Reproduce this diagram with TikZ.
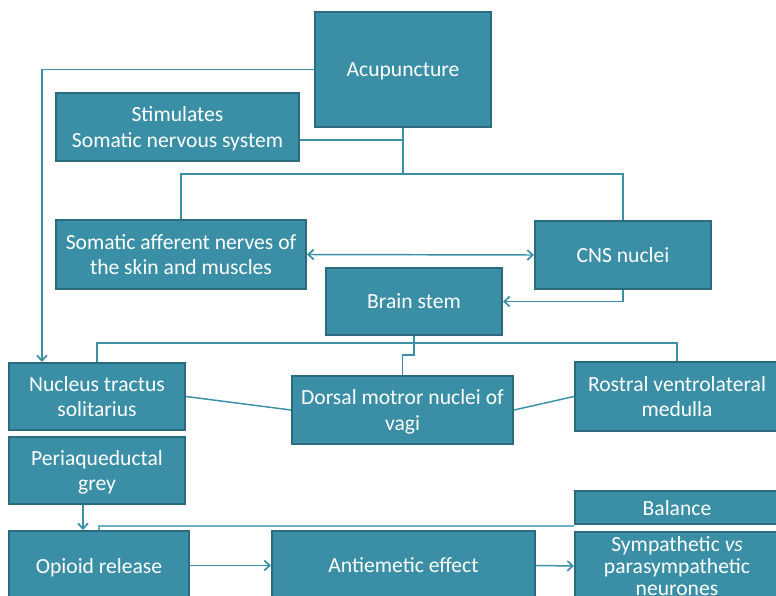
\documentclass[tikz,border=0pt]{standalone}
\usepackage{fontspec}
\setmainfont{Carlito}
\usetikzlibrary{arrows.meta,calc}
\definecolor{boxfill}{HTML}{3A8FA6}
\definecolor{boxedge}{HTML}{2B6B7D}
\definecolor{linec}{HTML}{3A90A7}
\definecolor{linel}{HTML}{6BB0C2}
\tikzset{
  bx/.style={draw=boxedge, line width=1.6pt, fill=boxfill, text=white, align=center,
    inner sep=0pt, text depth=0pt, font=\fontsize{16.2}{19.3}\selectfont},
  ln/.style={draw=linec, line width=1.1pt},
  lnl/.style={draw=linel, line width=1.1pt},
  tip/.style={Straight Barb[length=4pt,width=7.5pt,line width=1.3pt]},
  arr/.style={-{Straight Barb[length=4pt,width=7.5pt,line width=1.3pt]}},
  darr/.style={{Straight Barb[length=4pt,width=7.5pt,line width=1.3pt]}-{Straight Barb[length=4pt,width=7.5pt,line width=1.3pt]}}
}
\begin{document}
\begin{tikzpicture}[x=0.75pt,y=-0.75pt]
\useasboundingbox (0,0) rectangle (776,596);
\clip (0,0) rectangle (776,596);
% boxes
\node[bx, minimum width=132pt, minimum height=86.25pt] (acu) at (403,69.5) {Acupuncture};
\node[bx, minimum width=182.25pt, minimum height=51pt] (stim) at (177.5,127) {Stimulates\\Somatic nervous system};
\node[bx, minimum width=187.5pt, minimum height=51.75pt] (som) at (181,254.5) {Somatic afferent nerves of\\the skin and muscles};
\node[bx, minimum width=132pt, minimum height=51pt] (cns) at (623,255) {CNS nuclei};
\node[bx, minimum width=132pt, minimum height=50.25pt] (bs) at (414,301.5) {Brain stem};
\node[bx, minimum width=132pt, minimum height=50.25pt] (nts) at (97,396.5) {Nucleus tractus\\solitarius};
\node[bx, minimum width=165.75pt, minimum height=51pt] (dors) at (402.5,410) {Dorsal motror nuclei of\\vagi};
\node[bx, minimum width=153pt, minimum height=51.75pt] (rvlm) at (677,396.5) {Rostral ventrolateral\\medulla};
\node[bx, minimum width=132pt, minimum height=50.25pt] (pag) at (97,470.5) {Periaqueductal\\grey};
\node[bx, minimum width=153pt, minimum height=24.75pt] (bal) at (677,507.5) {Balance};
\node[bx, minimum width=135pt, minimum height=51.75pt] (opi) at (99,565.5) {Opioid release};
\node[bx, minimum width=197.25pt, minimum height=51.75pt] (anti) at (403.5,565.5) {Antiemetic effect};
\node[bx, minimum width=153pt, minimum height=51pt, font=\fontsize{16.2}{16.5}\selectfont] (sym) at (677,566) {Sympathetic \textit{vs}\\parasympathetic\\neurones};
% connectors
\coordinate (s1) at ([yshift=-9.75pt]stim.east);
\draw[ln] (s1) -- (s1 -| acu.south);
\coordinate (j1) at (403,174);
\draw[ln] (acu.south) -- (j1);
\draw[ln] (som.north) |- (j1) -| (cns.north);
\draw[ln,darr] (som.east) -- (cns.west);
\draw[ln,arr] (cns.south) |- (bs.east);
\coordinate (j2) at (414,343);
\draw[ln] (bs.south) -- (j2);
\draw[ln] (nts.north) |- (j2) -| (rvlm.north);
\coordinate (j3) at (414,355);
\draw[ln] (j2) -- (j3) -| (dors.north);
\draw[ln] (nts.east) -- (dors.west);
\draw[ln] (dors.east) -- (rvlm.west);
\coordinate (a1) at ($(nts.north west)+(34,0)$);
\draw[ln,arr] (acu.west) -| (a1);
\coordinate (p1) at ([xshift=-10.5pt]pag.south);
\draw[ln,arr] (p1) -- (p1 |- opi.north);
\draw[lnl] (opi.north) |- ([yshift=-0.75pt]bal.south west);
\draw[ln,arr] (opi.east) -- (anti.west);
\draw[ln,arr] (anti.east) -- (sym.west);
\end{tikzpicture}
\end{document}
